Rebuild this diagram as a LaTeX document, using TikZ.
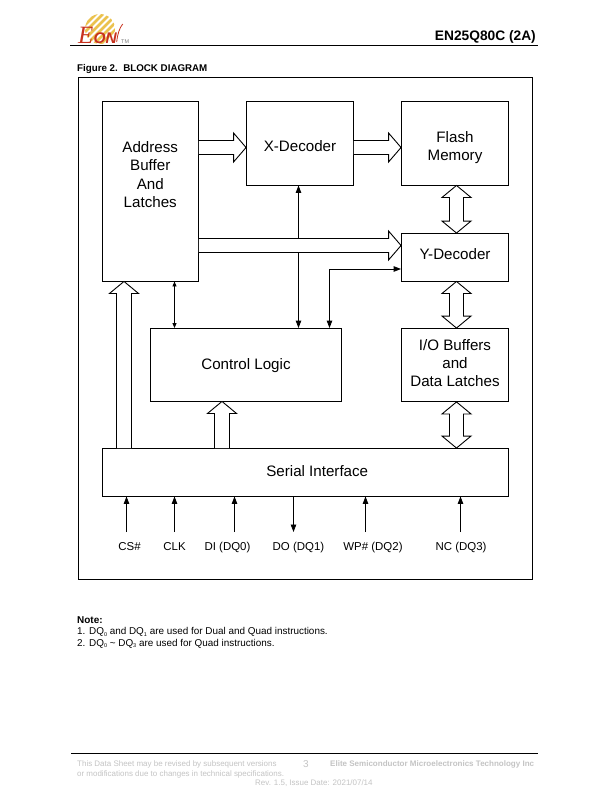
\documentclass[tikz,border=0pt]{standalone}
\usepackage{fontspec}
\setmainfont{Liberation Sans}
\newfontfamily\eonf{Liberation Serif}
\usetikzlibrary{calc,arrows.meta}
\definecolor{foot}{HTML}{C4C4C4}
\definecolor{eonred}{HTML}{C8321E}
\definecolor{eonyel}{HTML}{EBC24E}
\newcommand{\lab}[2]{\raisebox{#1bp}[0pt][0pt]{\begin{tabular}{@{}c@{}}#2\end{tabular}}}
\newcommand{\sbs}[1]{\raisebox{-1.6bp}{\fontsize{5.5}{6}\selectfont #1}}
% horizontal open arrow: start anchor, tip anchor, y
\newcommand{\fatH}[3]{\draw[fat] (#1 |- 0,#3) ++(0,-7) -- ($(#2 |- 0,#3)+(-12.5,-7)$) -- ($(#2 |- 0,#3)+(-12.5,-14.5)$) -- (#2 |- 0,#3) -- ($(#2 |- 0,#3)+(-12.5,14.5)$) -- ($(#2 |- 0,#3)+(-12.5,7)$) -- ($(#1 |- 0,#3)+(0,7)$);}
% vertical open arrow pointing up: start anchor, tip anchor, x
\newcommand{\fatU}[3]{\draw[fat] ($(#3,0 |- #1)+(-7.5,0)$) -- ($(#3,0 |- #2)+(-7.5,12)$) -- ($(#3,0 |- #2)+(-14.5,12)$) -- (#3,0 |- #2) -- ($(#3,0 |- #2)+(14.5,12)$) -- ($(#3,0 |- #2)+(7.5,12)$) -- ($(#3,0 |- #1)+(7.5,0)$);}
% vertical double open arrow: upper anchor, lower anchor
\newcommand{\fatD}[2]{\draw[fat] (#1) -- ++(14.5,12) -- ++(-7.5,0) -- ($(#2)+(7,-12)$) -- ($(#2)+(14.5,-12)$) -- (#2) -- ($(#2)+(-14.5,-12)$) -- ($(#2)+(-7,-12)$) -- ($(#1)+(-7,12)$) -- ($(#1)+(-14.5,12)$) -- cycle;}
\tikzset{
  blk/.style={draw=black,line width=0.9bp,fill=white,inner sep=0pt,font=\fontsize{15.2}{18.2}\selectfont},
  fat/.style={draw=black,line width=0.9bp,fill=white,line join=miter},
  thin/.style={draw=black,line width=0.9bp,-{Triangle[length=7.5bp,width=5.5bp]}},
  thinboth/.style={draw=black,line width=0.9bp,{Triangle[length=5bp,width=4bp]}-{Triangle[length=5bp,width=4bp]}},
  pin/.style={font=\fontsize{11.5}{14}\selectfont,inner sep=0pt,anchor=base},
  note/.style={font=\fontsize{9.95}{12}\selectfont,inner sep=0pt,anchor=base west},
  foottxt/.style={font=\fontsize{8}{10}\selectfont,text=foot,inner sep=0pt,anchor=base west},
}
\begin{document}
\begin{tikzpicture}[x=1bp,y=-1bp]
\useasboundingbox[fill=white] (0,0) rectangle (612,792);
% logo
\begin{scope}
 \clip (100,29) circle (15);
 \foreach \k in {-40,-33,...,40}
  \draw[eonyel,line width=2.8bp] (100+\k-25,29+25) -- (100+\k+25,29-25);
\end{scope}
\node[inner sep=0pt,anchor=base west,text=eonred,font=\fontsize{25}{26}\selectfont\eonf\itshape] (logoe) at (78,44) {E};
\node[inner sep=0pt,anchor=base west,text=eonred,font=\fontsize{15.5}{16}\selectfont\itshape\bfseries] (logoon) at (93.5,43.5) {ON};
\draw[eonred,line width=0.8bp] (116.7,42) .. controls (117.5,34) and (119.5,28) .. (122.7,24);
\node[inner sep=0pt,anchor=base west,text=gray,font=\fontsize{5.5}{6}\selectfont] (tm) at (121,44) {TM};
\node[inner sep=0pt,anchor=base east,font=\fontsize{13.8}{15}\selectfont\bfseries] (title) at (536,41) {EN25Q80C (2A)};
\coordinate (hl) at (70,46); \coordinate (hr) at (538,46);
\draw[line width=1bp] (hl) -- (hr);
\node[inner sep=0pt,anchor=base west,font=\fontsize{9.8}{11}\selectfont\bfseries] (fig) at (77,72) {Figure 2.\ \ BLOCK DIAGRAM};
\node[draw=black,line width=0.9bp,inner sep=0pt,minimum width=454bp,minimum height=501.5bp] (frame) at (305.5,328.25) {};
% blocks
\node[blk,minimum width=96.5bp,minimum height=180bp] (addr) at (150.25,191) {\lab{11}{Address\\Buffer\\And\\Latches}};
\node[blk,minimum width=107bp,minimum height=84bp] (xdec) at (300,143) {\lab{-8}{X-Decoder}};
\node[blk,minimum width=107bp,minimum height=84bp] (flash) at (455,143) {\lab{-8.5}{Flash\\Memory}};
\node[blk,minimum width=107bp,minimum height=47.5bp] (ydec) at (455,257.25) {\lab{-2}{Y-Decoder}};
\node[blk,minimum width=107bp,minimum height=73bp] (io) at (455,365) {\lab{-3.5}{I/O Buffers\\and\\Data Latches}};
\node[blk,minimum width=191bp,minimum height=72.5bp] (ctl) at (246,364.75) {\lab{-5}{Control Logic}};
\node[blk,minimum width=406.5bp,minimum height=47.5bp] (ser) at (305.25,472.25) {\hspace*{24bp}\lab{-4}{Serial Interface}};
% open arrows
\fatH{addr.east}{xdec.west}{147.5}
\fatH{xdec.east}{flash.west}{147.5}
\fatH{addr.east}{ydec.west}{245.5}
\fatU{ser.north}{addr.south}{124}
\fatU{ser.north}{ctl.south}{222}
\coordinate (fu1) at (456.5,0 |- flash.south); \coordinate (fl1) at (456.5,0 |- ydec.north);
\coordinate (fu2) at (456.5,0 |- ydec.south);  \coordinate (fl2) at (456.5,0 |- io.north);
\coordinate (fu3) at (456.5,0 |- io.south);    \coordinate (fl3) at (456.5,0 |- ser.north);
\fatD{fu1}{fl1}
\fatD{fu2}{fl2}
\fatD{fu3}{fl3}
% thin connectors
\coordinate (bust) at (298.5,238.5); \coordinate (busb) at (298.5,252.5);
\draw[thin] (bust) -- (bust |- xdec.south);
\draw[thin] (busb) -- (busb |- ctl.north);
\coordinate (corner) at (329.5,269);
\draw[thin] (corner) -- (corner -| ydec.west);
\draw[thin] (corner) -- (corner |- ctl.north);
\draw[thinboth] (174.5,0 |- addr.south) -- (174.5,0 |- ctl.north);
% pins
\node[pin] (cs) at (129.5,550) {CS\#};
\node[pin] (clk) at (174.5,550) {CLK};
\node[pin] (di) at (227.5,550) {DI (DQ0)};
\node[pin] (do) at (298.5,550) {DO (DQ1)};
\node[pin] (wp) at (373,550) {WP\# (DQ2)};
\node[pin] (nc) at (461,550) {NC (DQ3)};
\coordinate (pcs) at (126.5,532); \coordinate (pclk) at (174.5,532); \coordinate (pdi) at (234.5,532);
\coordinate (pdo) at (293.5,532); \coordinate (pwp) at (365.5,532); \coordinate (pnc) at (460.5,532);
\draw[thin] (pcs) -- (pcs |- ser.south);
\draw[thin] (pclk) -- (pclk |- ser.south);
\draw[thin] (pdi) -- (pdi |- ser.south);
\draw[thin] (pdo |- ser.south) -- (pdo);
\draw[thin] (pwp) -- (pwp |- ser.south);
\draw[thin] (pnc) -- (pnc |- ser.south);
% notes
\node[note,font=\fontsize{10}{12}\selectfont\bfseries] (n0) at (77,623) {Note:};
\node[note] (n1) at (77,634.5) {1. DQ\sbs{0} and DQ\sbs{1} are used for Dual and Quad instructions.};
\node[note] (n2) at (77,646) {2. DQ\sbs{0} \textasciitilde{} DQ\sbs{3} are used for Quad instructions.};
% footer
\coordinate (fl) at (71,753); \coordinate (fr) at (538,753);
\draw[line width=1bp] (fl) -- (fr);
\node[foottxt] (f1) at (77,766) {This Data Sheet may be revised by subsequent versions};
\node[foottxt] (f2) at (77,776) {or modifications due to changes in technical specifications.};
\node[foottxt,font=\fontsize{10}{12}\selectfont] (f3) at (303,767) {3};
\node[foottxt,font=\fontsize{8.05}{10}\selectfont\bfseries] (f4) at (330,766) {Elite Semiconductor Microelectronics Technology Inc};
\node[foottxt] (f5) at (255,785) {Rev. 1.5, Issue Date: 2021/07/14};
\end{tikzpicture}
\end{document}
